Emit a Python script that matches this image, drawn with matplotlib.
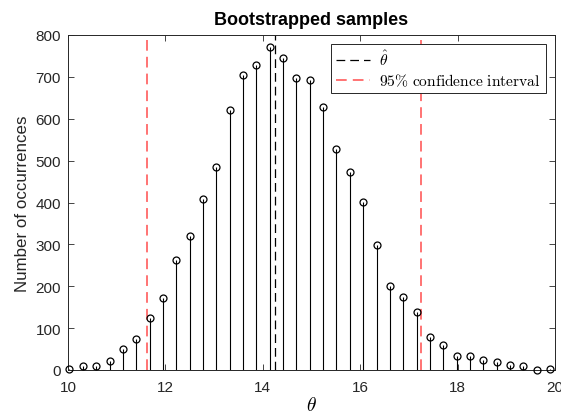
import numpy as np
import matplotlib
matplotlib.use("Agg")
import matplotlib.pyplot as plt

plt.rcParams["font.family"] = ["Liberation Sans", "DejaVu Sans"]
plt.rcParams["mathtext.fontset"] = "cm"

# Histogram bin centres of the bootstrapped estimates and their counts
theta_bins = np.linspace(10.03, 19.9, 37)
counts = [3, 9, 10, 21, 51, 74, 123, 172, 262, 319, 408, 484, 620, 704, 729, 772,
          744, 698, 693, 627, 527, 472, 401, 299, 200, 175, 138, 79, 59, 33, 34,
          24, 18, 12, 10, 1, 2]

theta_hat = 14.26
ci_low, ci_high = 11.62, 17.24

x_ticks = [10, 12, 14, 16, 18, 20]
y_ticks = list(range(0, 801, 100))

ax_color = "#262626"

fig = plt.figure(figsize=(5.61, 4.14), dpi=100)
ax = fig.add_axes([68 / 561, 1 - 371 / 414, (555 - 68) / 561, (371 - 36) / 414])

ax.vlines(theta_bins, 0, counts, color="black", linewidth=0.8)
ax.plot(theta_bins, counts, linestyle="none", marker="o", markersize=5,
        markerfacecolor="none", markeredgecolor="black", markeredgewidth=0.9,
        clip_on=False, zorder=3)

ax.plot([theta_hat, theta_hat], [0, 800], color="black", linestyle=(0, (7, 4)),
        linewidth=0.9, label=r"$\hat{\theta}$")
ax.plot([ci_low, ci_low], [0, 800], color="#ff4d4d", linestyle=(0, (7, 4)),
        linewidth=1.1, label=r"$\mathrm{95\%\ confidence\ interval}$")
ax.plot([ci_high, ci_high], [0, 800], color="#ff4d4d", linestyle=(0, (7, 4)),
        linewidth=1.1)

ax.set_xlim(10, 20)
ax.set_ylim(0, 800)
ax.set_xticks(x_ticks)
ax.set_yticks(y_ticks)
ax.tick_params(direction="in", top=True, right=True, length=4, width=0.6,
               colors=ax_color, labelsize=11, labelcolor=ax_color)
ax.tick_params(axis="x", pad=7)
ax.tick_params(axis="y", pad=5)
for s in ax.spines.values():
    s.set_color(ax_color)
    s.set_linewidth(0.7)

ax.set_title("Bootstrapped samples", fontsize=13, fontweight="bold", pad=8)
ax.set_xlabel(r"$\theta$", fontsize=14, labelpad=2)
ax.set_ylabel("Number of occurrences", fontsize=12.2, color=ax_color, labelpad=4)

leg = ax.legend(loc="upper right", fontsize=11.2, frameon=True, fancybox=False,
                borderpad=0.3, handlelength=2.2, handletextpad=0.6,
                labelspacing=0.25, borderaxespad=0.6)
leg.get_frame().set_edgecolor(ax_color)
leg.get_frame().set_linewidth(0.7)
leg.get_frame().set_alpha(1)

fig.savefig("out.png", dpi=100)
